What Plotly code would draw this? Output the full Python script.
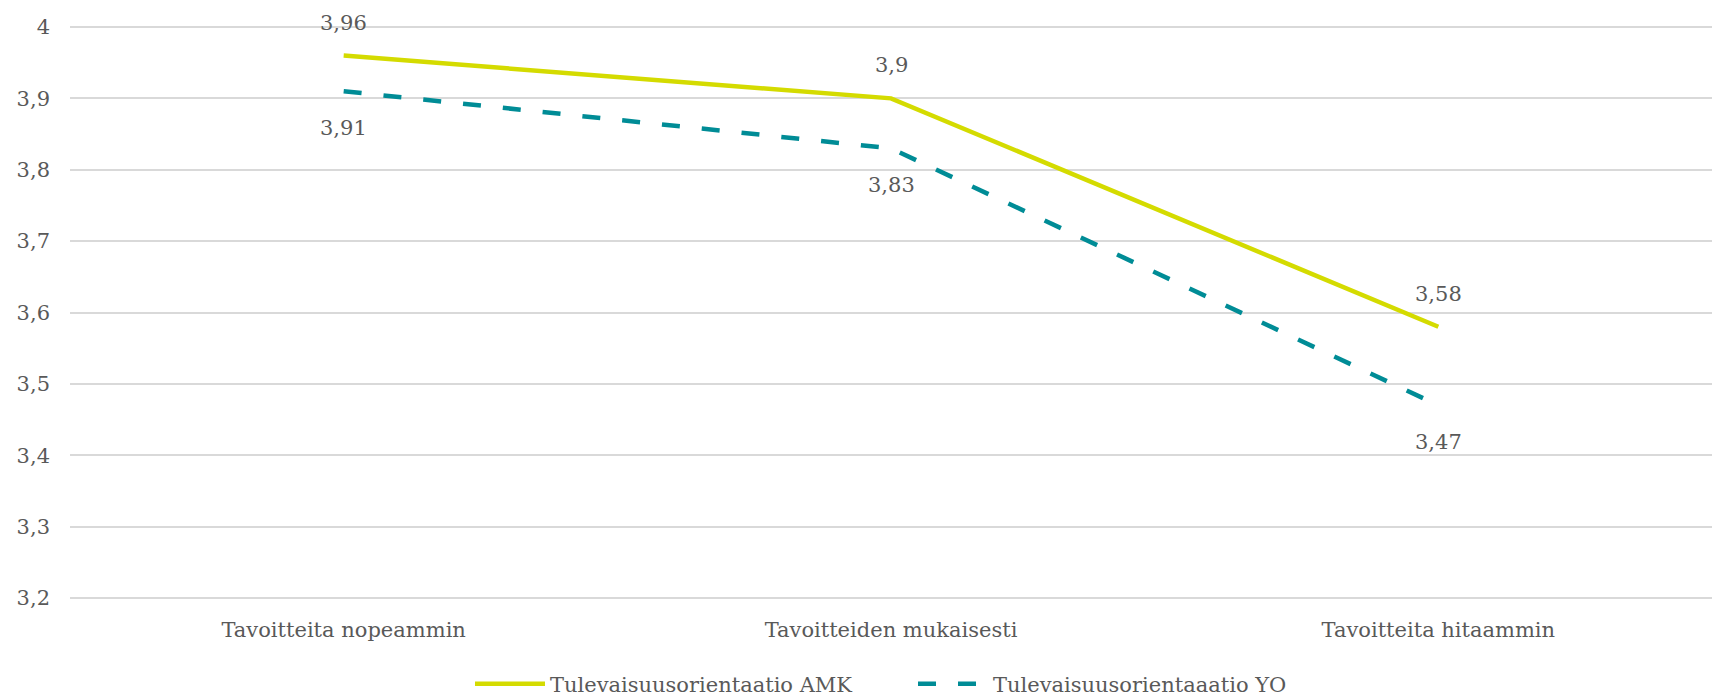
import plotly.graph_objects as go

categories = ["Tavoitteita nopeammin", "Tavoitteiden mukaisesti", "Tavoitteita hitaammin"]
amk_values = [3.96, 3.90, 3.58]
yo_values = [3.91, 3.83, 3.47]
amk_name = "Tulevaisuusorientaatio AMK"
yo_name = "Tulevaisuusorientaaatio YO"
y_ticks = [3.2, 3.3, 3.4, 3.5, 3.6, 3.7, 3.8, 3.9, 4.0]
y_tick_labels = ["3,2", "3,3", "3,4", "3,5", "3,6", "3,7", "3,8", "3,9", "4"]

FONT = "Palatino Linotype, Book Antiqua, Palatino, DejaVu Serif, serif"
TXT = "#595959"
AMK_COLOR = "#D4DB00"
YO_COLOR = "#008C96"
FS = 21

def fmt(v):
    s = ("%.2f" % v).rstrip("0").rstrip(".")
    return s.replace(".", ",")

fig = go.Figure()
fig.add_trace(go.Scatter(x=categories, y=amk_values, mode="lines", name=amk_name,
                         line=dict(color=AMK_COLOR, width=4.5)))
fig.add_trace(go.Scatter(x=categories, y=yo_values, mode="lines", name=yo_name,
                         line=dict(color=YO_COLOR, width=4.5, dash="18px,22px")))

for c, v in zip(categories, amk_values):
    fig.add_annotation(x=c, y=v, text=fmt(v), showarrow=False, yshift=33,
                       font=dict(family=FONT, size=FS, color=TXT))
for c, v in zip(categories, yo_values):
    fig.add_annotation(x=c, y=v, text=fmt(v), showarrow=False, yshift=-37,
                       font=dict(family=FONT, size=FS, color=TXT))

fig.update_layout(
    width=1714, height=699,
    margin=dict(l=70, r=2, t=24, b=98, autoexpand=False),
    paper_bgcolor="white", plot_bgcolor="white",
    font=dict(family=FONT, size=FS, color=TXT),
    showlegend=True,
    legend=dict(orientation="h", x=0.2436, xanchor="left",
                yref="container", y=(699 - 684) / 699, yanchor="middle",
                font=dict(family=FONT, size=FS, color=TXT), itemwidth=70,
                entrywidth=358, entrywidthmode="pixels",
                tracegroupgap=0),
    xaxis=dict(range=[-0.5, 2.5], showgrid=False, zeroline=False, showline=False,
               automargin=False,
               ticks="", ticklabelstandoff=14, tickfont=dict(family=FONT, size=FS, color=TXT)),
    yaxis=dict(range=[3.1958, 4.0042], tickvals=y_ticks, ticktext=y_tick_labels,
               showgrid=True, gridcolor="#D9D9D9", gridwidth=2, zeroline=False,
               automargin=False,
               showline=False, ticks="", ticklabelstandoff=19,
               tickfont=dict(family=FONT, size=FS, color=TXT)),
)

fig.write_html("out.html", config={"displayModeBar": False},
               post_script="document.body.style.margin='0';document.body.style.overflow='hidden';")
